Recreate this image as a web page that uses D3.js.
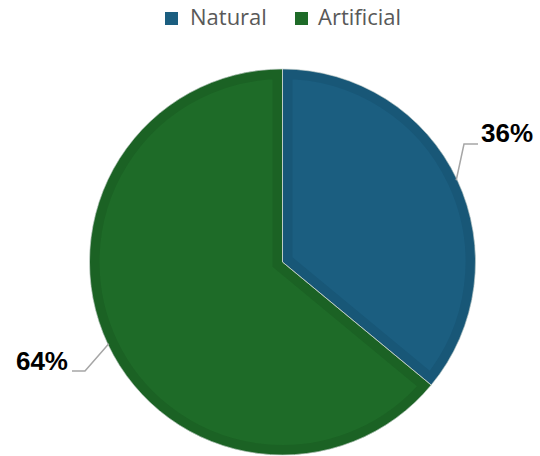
<!DOCTYPE html>
<html>
<head>
<meta charset="utf-8">
<script src="https://cdn.jsdelivr.net/npm/d3@7"></script>
<style>
  html, body { margin: 0; padding: 0; background: #ffffff; }
  svg { display: block; }
</style>
</head>
<body>
<svg id="chart" width="540" height="456"></svg>
<script>
// Share of each source type
const categories = ["Natural", "Artificial"];
const values = [36, 64];
const fillColors = ["#1b5e80", "#1e6b28"];
const edgeColors = ["#185777", "#1b6224"];

const width = 540, height = 456;
const cx = 282.5, cy = 262, radius = 193;

const svg = d3.select("#chart");
const defs = svg.append("defs");

const pie = d3.pie().sort(null).value(d => d.value);
const arcs = pie(categories.map((c, i) => ({ name: c, value: values[i], i })));
const arc = d3.arc().innerRadius(0).outerRadius(radius);

const g = svg.append("g").attr("transform", `translate(${cx},${cy})`);

// Each slice: fill with a slightly darker inset rim, clipped to the slice
arcs.forEach((a, k) => {
  const id = "clip-" + k;
  defs.append("clipPath").attr("id", id).append("path").attr("d", arc(a));
  const sg = g.append("g").attr("clip-path", `url(#${id})`);
  sg.append("path").attr("d", arc(a)).attr("fill", fillColors[a.data.i]);
  sg.append("path").attr("d", arc(a))
    .attr("fill", "none")
    .attr("stroke", edgeColors[a.data.i])
    .attr("stroke-width", 20)
    .attr("stroke-linejoin", "miter");
});

// Thin separators between slices
arcs.forEach(a => {
  g.append("path").attr("d", arc(a))
    .attr("fill", "none")
    .attr("stroke", "#c9d3cf")
    .attr("stroke-width", 1)
    .attr("stroke-opacity", 0.7);
});

// Percent labels with leader lines from the middle of each slice's rim
const leaders = [
  { i: 0, bend: [464, 144], end: [478, 144], text: [481, 142], anchor: "start" },
  { i: 1, bend: [85, 371], end: [72, 371], text: [68, 370], anchor: "end" }
];
leaders.forEach(L => {
  const a = arcs[L.i];
  const ang = (a.startAngle + a.endAngle) / 2;
  const r0 = radius - 1;
  const sx = cx + Math.sin(ang) * r0;
  const sy = cy - Math.cos(ang) * r0;
  svg.append("polyline")
    .attr("points", [[sx, sy], L.bend, L.end].map(p => p.join(",")).join(" "))
    .attr("fill", "none")
    .attr("stroke", "#a6a6a6")
    .attr("stroke-width", 1.5);
  svg.append("text")
    .attr("x", L.text[0]).attr("y", L.text[1])
    .attr("text-anchor", L.anchor)
    .attr("font-family", "'Liberation Sans', Arial, sans-serif")
    .attr("font-weight", "bold")
    .attr("font-size", 26)
    .attr("fill", "#000000")
    .text(values[L.i] + "%");
});

// Legend
const legendItems = [
  { sq: 165, tx: 190 },
  { sq: 295, tx: 318 }
];
const legend = svg.append("g");
categories.forEach((c, i) => {
  legend.append("rect")
    .attr("x", legendItems[i].sq).attr("y", 12)
    .attr("width", 13).attr("height", 13)
    .attr("fill", fillColors[i]);
  legend.append("text")
    .attr("x", legendItems[i].tx).attr("y", 25)
    .attr("font-family", "'Open Sans', sans-serif")
    .attr("font-size", 22)
    .attr("fill", "#595959")
    .text(c);
});
</script>
</body>
</html>
